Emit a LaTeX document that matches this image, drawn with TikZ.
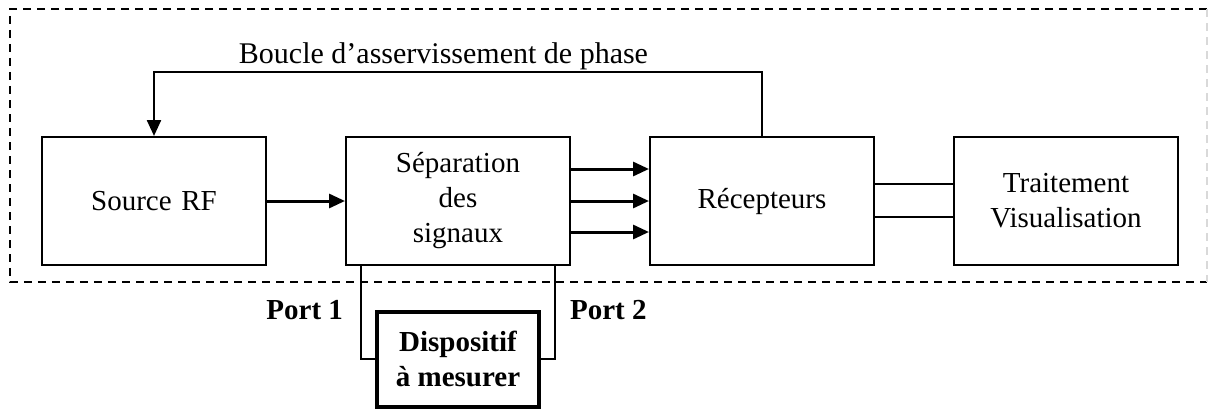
\documentclass[tikz,border=0pt]{standalone}
\usepackage{fontspec}
\setmainfont{Liberation Serif}
\usetikzlibrary{arrows.meta}

\begin{document}
\begin{tikzpicture}
[x=0.5pt,y=-0.5pt,
font=\fontsize{14.5}{17.5}\selectfont,
block/.style ={rectangle, draw, line width=1pt,
text width=100pt,align=center,
minimum width=112pt, minimum height=64pt, inner sep=0pt},
dut/.style ={rectangle, draw, line width=1.8pt,
align=center, font=\fontsize{14.5}{17.5}\selectfont\bfseries,
minimum width=81pt, minimum height=47.5pt, inner sep=0pt},
portlabel/.style ={font=\fontsize{14.5}{17.5}\selectfont\bfseries},
line/.style ={draw, line width=1.5pt, -{Triangle[length=8pt,width=7pt]}},
wire/.style ={draw, line width=1pt},
frame/.style ={draw, line width=1pt, dash pattern=on 4pt off 3pt}]
\useasboundingbox (0,0) rectangle (1209,412);
% dashed frame round the bench
\draw[frame] (1207,9) -- (10,9) -- (10,282) -- (1207,282);
\draw[frame, black!15] (1207,9) -- (1207,282);
\matrix (bench) [column sep=39pt,row sep=22pt,matrix anchor=src.center] at (154,201)
{
% row 1 has the four blocks
\node [block] (src)   {Source RF}; &
\node [block] (sep)   {Séparation\\des\\signaux}; &
\node [block] (rec)   {Récepteurs}; &
\node [block] (trait) {Traitement\\Visualisation}; \\
% row 2 has only the device under the separation block
& \node [dut] (dut) {Dispositif\\à mesurer}; & & \\
};
\node [anchor=base, font=\fontsize{15}{18}\selectfont] (boucle) at (443.5,63) {Boucle d’asservissement de phase};
\node [portlabel, anchor=base east] (port1) at (350,319) {Port 1};
\node [portlabel, anchor=base west] (port2) at (563,319) {Port 2};
\begin{scope}[every path/.style=line]
\path (src) -- (sep);
\path ([yshift=16pt]sep.east) -- ([yshift=16pt]rec.west);
\path (sep) -- (rec);
\path ([yshift=-15.5pt]sep.east) -- ([yshift=-15.5pt]rec.west);
\path[line width=1.2pt] (rec.north) -- ++(0,-64) -| (src.north);
\end{scope}
\draw[wire] ([yshift=8.5pt]rec.east) -- ([yshift=8.5pt]trait.west);
\draw[wire] ([yshift=-8pt]rec.east) -- ([yshift=-8pt]trait.west);
\draw[wire] ([xshift=8pt]sep.south west) |- (dut.west);
\draw[wire] ([xshift=-8pt]sep.south east) |- (dut.east);
\end{tikzpicture}
\end{document}
